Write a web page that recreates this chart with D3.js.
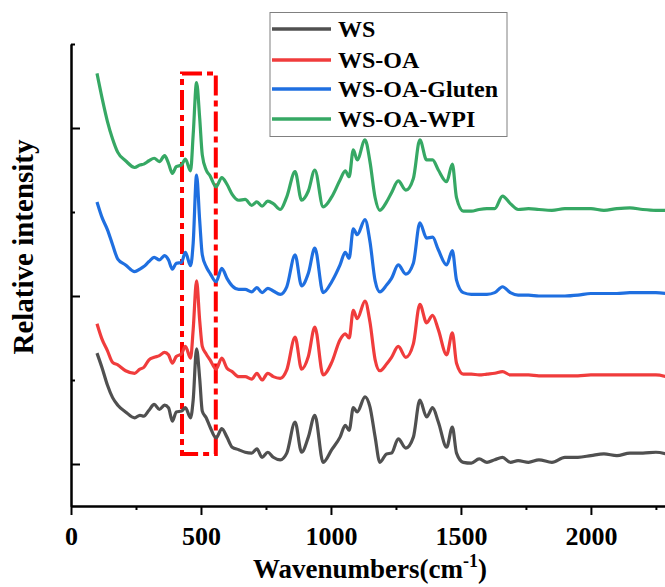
<!DOCTYPE html>
<html>
<head>
<meta charset="utf-8">
<script src="https://cdn.jsdelivr.net/npm/d3@7"></script>
<style>
  body { margin: 0; background: #fff; }
  text { font-family: "Liberation Serif", "Times New Roman", serif; font-weight: bold; }
</style>
</head>
<body>
<div id="chart"></div>
<script>
'use strict';

// wavenumber grid (cm-1)
var wavenumbers = [100, 120, 140, 160, 180, 210, 245, 265, 280, 300, 320, 340, 360, 375, 390, 405, 425, 440, 460, 470,
    483, 495, 505, 520, 535, 558, 580, 600, 620, 645, 670, 695, 715, 735, 757, 778, 805, 830, 862, 887,
    913, 938, 970, 1003, 1035, 1055, 1070, 1086, 1101, 1131, 1150, 1170, 1188, 1214, 1233, 1259, 1288, 1317, 1342, 1368,
    1391, 1413, 1445, 1467, 1483, 1509, 1540, 1570, 1600, 1630, 1660, 1690, 1720, 1760, 1800, 1850, 1900, 1950, 2000, 2050,
    2100, 2150, 2200, 2250, 2290];

var ws = [1.32, 1.14, 0.94, 0.79, 0.70, 0.62, 0.55, 0.58, 0.57, 0.64, 0.71, 0.65, 0.70, 0.67, 0.51, 0.62, 0.63, 0.67, 0.55, 0.76,
    1.37, 1.02, 0.63, 0.55, 0.44, 0.31, 0.42, 0.32, 0.20, 0.17, 0.14, 0.13, 0.18, 0.08, 0.14, 0.08, 0.05, 0.13, 0.50, 0.14,
    0.32, 0.58, 0.02, 0.17, 0.32, 0.46, 0.40, 0.67, 0.62, 0.80, 0.68, 0.32, 0.02, 0.12, 0.13, 0.30, 0.19, 0.32, 0.76, 0.56,
    0.67, 0.50, 0.20, 0.44, 0.13, 0.02, 0.01, 0.06, 0.02, 0.05, 0.08, 0.02, 0.04, 0.02, 0.05, 0.02, 0.08, 0.08, 0.10, 0.12,
    0.10, 0.13, 0.13, 0.14, 0.12];

var wsOA = [1.67, 1.48, 1.35, 1.21, 1.18, 1.11, 1.08, 1.13, 1.15, 1.24, 1.27, 1.29, 1.33, 1.30, 1.20, 1.28, 1.31, 1.40, 1.26, 1.60,
    2.18, 1.71, 1.40, 1.31, 1.24, 1.13, 1.26, 1.14, 1.10, 1.04, 1.04, 1.01, 1.08, 1.00, 1.08, 1.04, 1.02, 1.12, 1.51, 1.13,
    1.28, 1.63, 1.06, 1.21, 1.48, 1.55, 1.50, 1.83, 1.73, 1.94, 1.69, 1.24, 1.11, 1.19, 1.27, 1.40, 1.27, 1.43, 1.90, 1.68,
    1.77, 1.60, 1.30, 1.56, 1.20, 1.07, 1.07, 1.06, 1.07, 1.08, 1.10, 1.06, 1.06, 1.06, 1.05, 1.05, 1.05, 1.05, 1.06, 1.06,
    1.06, 1.06, 1.06, 1.06, 1.04];

var wsOAGluten = [3.12, 2.93, 2.79, 2.61, 2.44, 2.37, 2.29, 2.32, 2.35, 2.41, 2.46, 2.43, 2.48, 2.43, 2.32, 2.39, 2.40, 2.52, 2.36, 2.63,
    3.44, 2.90, 2.49, 2.35, 2.27, 2.17, 2.33, 2.21, 2.12, 2.08, 2.08, 2.05, 2.10, 2.04, 2.09, 2.06, 2.02, 2.11, 2.49, 2.12,
    2.27, 2.57, 2.04, 2.17, 2.37, 2.52, 2.45, 2.80, 2.73, 2.91, 2.65, 2.18, 2.05, 2.13, 2.21, 2.37, 2.26, 2.39, 2.87, 2.69,
    2.70, 2.55, 2.37, 2.54, 2.19, 2.04, 2.02, 2.02, 2.02, 2.04, 2.11, 2.04, 2.01, 2.01, 2.00, 2.00, 2.00, 2.01, 2.03, 2.03,
    2.03, 2.04, 2.04, 2.04, 2.03];

var wsOAWPI = [4.65, 4.35, 4.08, 3.87, 3.71, 3.61, 3.53, 3.56, 3.57, 3.61, 3.64, 3.60, 3.67, 3.58, 3.46, 3.54, 3.56, 3.63, 3.49, 3.92,
    4.54, 4.12, 3.68, 3.50, 3.43, 3.30, 3.41, 3.33, 3.21, 3.14, 3.15, 3.08, 3.12, 3.07, 3.13, 3.10, 3.03, 3.18, 3.48, 3.14,
    3.25, 3.50, 3.06, 3.18, 3.38, 3.49, 3.42, 3.74, 3.62, 3.86, 3.60, 3.17, 3.02, 3.12, 3.23, 3.37, 3.26, 3.40, 3.86, 3.62,
    3.62, 3.50, 3.36, 3.57, 3.17, 3.01, 3.01, 3.03, 3.04, 3.04, 3.19, 3.10, 3.03, 3.04, 3.03, 3.02, 3.04, 3.04, 3.04, 3.02,
    3.04, 3.05, 3.03, 3.02, 3.02];

var seriesNames = ['WS', 'WS-OA', 'WS-OA-Gluten', 'WS-OA-WPI'];
var seriesColors = ['#505050', '#f03c3c', '#1f6fe0', '#36a864'];
var seriesValues = [ws, wsOA, wsOAGluten, wsOAWPI];

var xMajorTicks = [0, 500, 1000, 1500, 2000];
var xMinorTicks = [250, 750, 1250, 1750, 2250];
var yMajorTicks = [0, 2, 4];
var yMinorTicks = [1, 3, 5];

// highlighted region around the 480 cm-1 band
var boxX = [427, 557];
var boxY = [0.12, 4.65];

var width = 665, height = 587;

var svg = d3.select('#chart')
    .append('svg')
    .attr('width', width)
    .attr('height', height);

var x = d3.scaleLinear().domain([0, 2285]).range([71, 665]);
var y = d3.scaleLinear().domain([-0.5, 5]).range([506, 44]);

// red dash-dot box
svg.append('rect')
    .attr('x', x(boxX[0]))
    .attr('y', y(boxY[1]))
    .attr('width', x(boxX[1]) - x(boxX[0]))
    .attr('height', y(boxY[0]) - y(boxY[1]))
    .attr('fill', 'none')
    .attr('stroke', '#ff0000')
    .attr('stroke-width', 4)
    .attr('stroke-dasharray', '20,5,6,5');

var line = d3.line()
    .x(function(d) { return x(d[0]); })
    .y(function(d) { return y(d[1]); })
    .curve(d3.curveMonotoneX);

seriesValues.forEach(function(vals, i) {
    var pts = wavenumbers.map(function(w, j) { return [w, vals[j]]; });
    svg.append('path')
        .datum(pts)
        .attr('fill', 'none')
        .attr('stroke', seriesColors[i])
        .attr('stroke-width', 3.2)
        .attr('stroke-linejoin', 'round')
        .attr('d', line);
});

// x axis
var xAxis = svg.append('g').attr('transform', 'translate(0,506)');
xAxis.call(d3.axisBottom(x).tickValues(xMajorTicks).tickSize(9).tickPadding(12)
    .tickFormat(d3.format('d')).tickSizeOuter(0));
xAxis.append('g').call(d3.axisBottom(x).tickValues(xMinorTicks).tickSize(4).tickFormat('').tickSizeOuter(0));
xAxis.selectAll('.domain').attr('stroke-width', 2);
xAxis.selectAll('.tick line').attr('stroke-width', 2);
xAxis.selectAll('.tick text')
    .attr('font-size', 26)
    .attr('font-family', '"Liberation Serif", serif')
    .attr('font-weight', 'bold')
    .attr('fill', '#000');

// y axis, ticks point inward
var yAxis = svg.append('g').attr('transform', 'translate(71,0)');
yAxis.call(d3.axisLeft(y).tickValues(yMajorTicks).tickSize(-9).tickFormat('').tickSizeOuter(0));
yAxis.append('g').call(d3.axisLeft(y).tickValues(yMinorTicks).tickSize(-4).tickFormat('').tickSizeOuter(0));
yAxis.selectAll('.domain').attr('stroke-width', 2);
yAxis.selectAll('.tick line').attr('stroke-width', 2);

// axis titles
var xTitle = svg.append('text')
    .attr('x', 370)
    .attr('y', 578)
    .attr('text-anchor', 'middle')
    .attr('font-size', 27);
xTitle.append('tspan').text('Wavenumbers(cm');
xTitle.append('tspan').attr('font-size', 18).attr('dy', -11).text('-1');
xTitle.append('tspan').attr('dy', 11).text(')');

svg.append('text')
    .attr('transform', 'translate(33,247) rotate(-90)')
    .attr('text-anchor', 'middle')
    .attr('font-size', 29)
    .text('Relative intensity');

// legend
var legend = svg.append('g');
legend.append('rect')
    .attr('x', 270).attr('y', 12.5)
    .attr('width', 237).attr('height', 124)
    .attr('fill', '#fff')
    .attr('stroke', '#808080')
    .attr('stroke-width', 1);

var rowY = [29, 60, 89, 119];
seriesNames.forEach(function(name, i) {
    legend.append('line')
        .attr('x1', 272).attr('x2', 331)
        .attr('y1', rowY[i]).attr('y2', rowY[i])
        .attr('stroke', seriesColors[i])
        .attr('stroke-width', 3.5);
    legend.append('text')
        .attr('x', 338)
        .attr('y', rowY[i] + 8)
        .attr('font-size', 24)
        .text(name);
});
</script>
</body>
</html>
